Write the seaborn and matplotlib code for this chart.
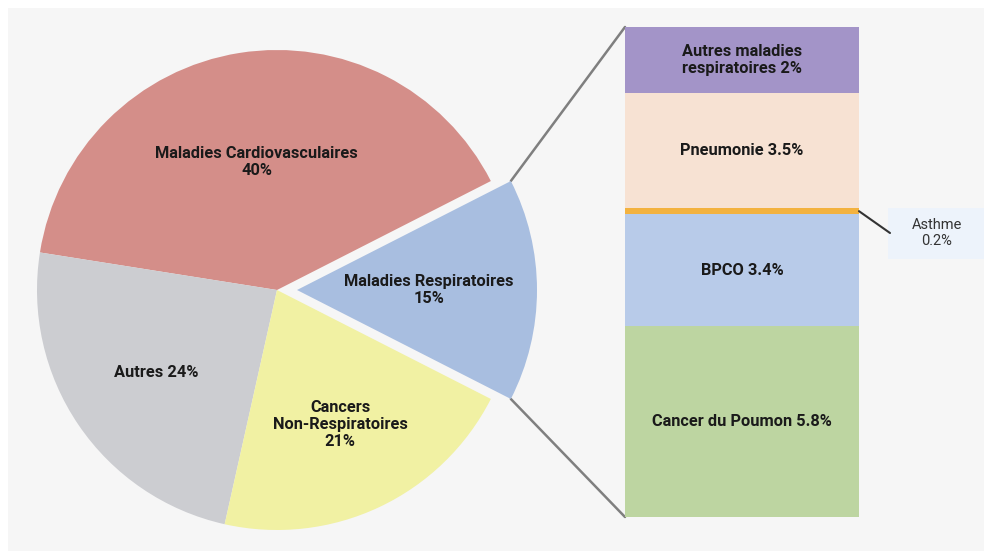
import numpy as np
import pandas as pd
import matplotlib
matplotlib.use("Agg")
import matplotlib.pyplot as plt
from matplotlib.patches import Rectangle, ConnectionPatch
import seaborn as sns

# ---------------- data ----------------
pie_labels = ["Maladies Respiratoires\n15%", "Maladies Cardiovasculaires\n40%",
              "Autres 24%", "Cancers\nNon-Respiratoires\n21%"]
pie_values = [15, 40, 24, 21]
pie_colors = ["#a8bee0", "#d48e89", "#cccdd1", "#f1f1a3"]

bar_labels = ["Cancer du Poumon 5.8%", "BPCO 3.4%", "Asthme\n0.2%",
              "Pneumonie 3.5%", "Autres maladies\nrespiratoires 2%"]
bar_values = [5.8, 3.4, 0.2, 3.5, 2.0]
bar_colors = ["#bdd5a1", "#b8cbe9", "#f3b23f", "#f7e2d3", "#a394c8"]

sns.set_theme(style="white")
plt.rcParams["font.family"] = ["Roboto", "DejaVu Sans"]

W, H = 984, 551
fig = plt.figure(figsize=(W / 100, H / 100), dpi=100, facecolor="white")

# main axes in pixel coordinates (y upward)
ax = fig.add_axes([0, 0, 1, 1])
ax.set_facecolor("none")
ax.add_patch(Rectangle((8, 0), W - 8, H - 8, facecolor="#f6f6f6", edgecolor="none", zorder=0))

cx, cy, R = 277, 261, 240
wedges, _ = ax.pie(pie_values, colors=pie_colors, startangle=-27, counterclock=True,
                   center=(cx, cy), radius=R, explode=[20, 0, 0, 0],
                   wedgeprops=dict(linewidth=0), labels=None)
for w in wedges:
    w.set_zorder(2)
ax.set_xlim(0, W)
ax.set_ylim(0, H)
ax.set_aspect("auto")
ax.axis("off")

label_r = [0.55, 0.54, 0.61, 0.62]
for w, lab, rf in zip(wedges, pie_labels, label_r):
    mid = np.deg2rad((w.theta1 + w.theta2) / 2)
    wx, wy = w.center
    ax.text(wx + rf * R * np.cos(mid), wy + rf * R * np.sin(mid), lab,
            ha="center", va="center", fontsize=11.8, fontweight="bold",
            color="#1a1a1a", zorder=3, linespacing=1.15)

# ---------------- stacked bar ----------------
total = sum(bar_values)
bx0, bx1, by_top, by_bot = 625, 859, 27, 517
axb = fig.add_axes([bx0 / W, (H - by_bot) / H, (bx1 - bx0) / W, (by_bot - by_top) / H])
cum = np.cumsum(bar_values)
# draw cumulative totals from tallest to shortest to obtain stacked segments
for i in range(len(bar_values) - 1, -1, -1):
    df = pd.DataFrame({"grp": ["Maladies Respiratoires"], "val": [cum[i]]})
    sns.barplot(data=df, x="grp", y="val", color=bar_colors[i], saturation=1,
                width=1, linewidth=0, ax=axb)
axb.set_xlim(-0.5, 0.5)
axb.set_ylim(0, total)
axb.axis("off")

bottoms = np.concatenate([[0], cum[:-1]])
for i, lab in enumerate(bar_labels):
    if bar_values[i] < 1:
        continue
    axb.text(0, bottoms[i] + bar_values[i] / 2, lab, ha="center", va="center",
             fontsize=11.8, fontweight="bold", color="#1a1a1a", linespacing=1.15)

# connector lines from exploded wedge to the bar
bw = wedges[0]
for ang, yb in [(bw.theta2, total), (bw.theta1, 0)]:
    a = np.deg2rad(ang)
    p = (bw.center[0] + R * np.cos(a), bw.center[1] + R * np.sin(a))
    con = ConnectionPatch(xyA=p, coordsA=ax.transData, xyB=(-0.5, yb), coordsB=axb.transData,
                          color="#7f7f7f", lw=1.8, zorder=1)
    ax.add_artist(con)

# Asthme callout
ia = 2
ay = bottoms[ia] + bar_values[ia] / 2
ax.add_patch(Rectangle((888, H - 259), 110, 51, facecolor="#edf3fb", edgecolor="none", zorder=1))
ax.text(937, H - 233, bar_labels[ia], ha="center", va="center", fontsize=10.5,
        color="#333333", zorder=3, linespacing=1.2)
con = ConnectionPatch(xyA=(0.5, ay), coordsA=axb.transData, xyB=(890, H - 233),
                      coordsB=ax.transData, color="#333333", lw=1.5, zorder=5)
fig.add_artist(con)

fig.savefig("out.png", dpi=100, facecolor="white")
